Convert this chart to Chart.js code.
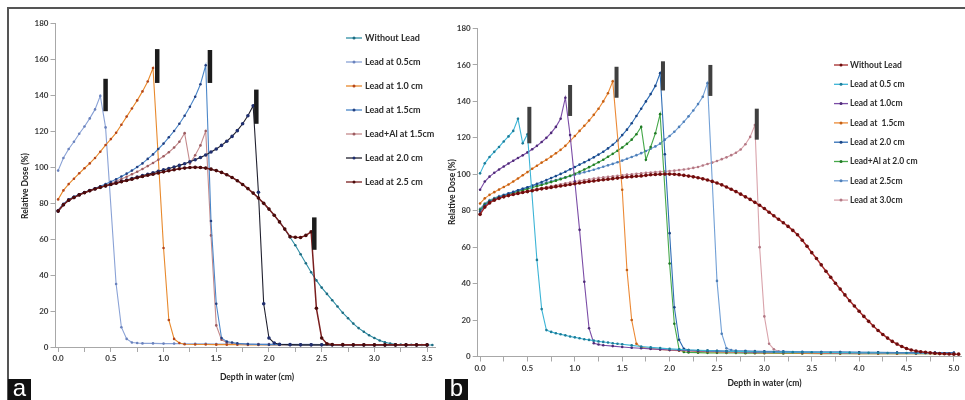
<!DOCTYPE html>
<html>
<head>
<meta charset="utf-8">
<script src="https://cdn.jsdelivr.net/npm/chart.js@4.4.0/dist/chart.umd.min.js"></script>
<style>
  body { margin: 0; background: #fff; }
  #fig { position: relative; width: 965px; height: 400px; overflow: hidden; }
  canvas { position: absolute; top: 0; }
  .rule { position: absolute; background: #555; }
  .tag { position: absolute; top: 379px; width: 23px; height: 21px; background: #111; color: #fff;
         font: 24px "Liberation Sans", Arial, sans-serif; line-height: 17px; text-align: center; }
</style>
</head>
<body>
<div id="fig">
  <canvas id="chartA" width="445" height="400" style="left:0"></canvas>
  <canvas id="chartB" width="521" height="400" style="left:444px"></canvas>
  <div class="rule" style="left:7px;top:7px;width:958px;height:2px"></div>
  <div class="rule" style="left:7px;top:7px;width:2px;height:393px"></div>
  <div class="tag" style="left:8px">a</div>
  <div class="tag" style="left:445px">b</div>
</div>
<script>
// ---- panel a: depth (cm) vs relative dose (%) ----
const a_noLead = [[0,75.5],[0.05,79],[0.1,81.5],[0.15,83],[0.2,84.5],[0.25,85.7],[0.3,86.8],[0.35,87.8],[0.4,88.7],[0.45,89.5],[0.5,90.3],[0.55,91],[0.6,91.8],[0.65,92.5],[0.7,93.2],[0.75,94],[0.8,94.7],[0.85,95.4],[0.9,96],[0.95,96.7],[1,97.3],[1.05,97.9],[1.1,98.5],[1.15,99],[1.2,99.4],[1.25,99.7],[1.3,99.8],[1.35,99.7],[1.4,99.4],[1.45,98.8],[1.5,98],[1.55,97],[1.6,95.7],[1.65,94.2],[1.7,92.4],[1.75,90.3],[1.8,88],[1.85,85.5],[1.9,82.8],[1.95,79.8],[2,76.6],[2.05,73.2],[2.1,69.5],[2.15,65.5],[2.2,61],[2.25,56.5],[2.3,51.5],[2.35,46.5],[2.4,41.5],[2.45,37],[2.5,33],[2.55,29.5],[2.6,26],[2.65,22.5],[2.7,19],[2.75,16],[2.8,13],[2.85,10.5],[2.9,8.5],[2.95,6.5],[3,5],[3.05,3.6],[3.1,2.6],[3.15,1.9],[3.2,1.5],[3.25,1.3],[3.3,1.2],[3.35,1.2],[3.4,1.1],[3.45,1.1],[3.5,1.1],[3.55,1.1]];
const a_lead05 = [[0,98],[0.05,105],[0.1,110],[0.15,114],[0.2,118.5],[0.25,122.5],[0.3,127],[0.35,132],[0.4,139.5],[0.45,122],[0.55,35],[0.6,11],[0.65,4.5],[0.7,2.5],[0.75,2.2],[0.8,2],[0.9,2],[1,1.9],[1.1,1.9],[1.2,1.8],[1.3,1.8],[1.4,1.8],[1.5,1.7],[1.6,1.7],[1.7,1.7],[1.8,1.6],[1.9,1.6],[2,1.6],[2.1,1.5],[2.2,1.5],[2.3,1.5],[2.4,1.5],[2.5,1.4],[2.6,1.4],[2.7,1.4],[2.8,1.4],[2.9,1.3],[3,1.3],[3.1,1.3],[3.2,1.3],[3.3,1.3],[3.4,1.2],[3.5,1.2]];
const a_lead10 = [[0,82],[0.05,87],[0.1,90.5],[0.15,93.5],[0.2,96.5],[0.25,99.3],[0.3,102],[0.35,105],[0.4,108.5],[0.45,112.2],[0.5,115.5],[0.55,119],[0.6,123.5],[0.65,128],[0.7,132.5],[0.75,137],[0.8,142],[0.85,147.5],[0.9,155],[1,55],[1.05,15],[1.1,4.5],[1.15,2.2],[1.2,1.5],[1.3,1.4],[1.4,1.4],[1.5,1.3],[1.6,1.3],[1.7,1.3],[1.8,1.2],[1.9,1.2],[2,1.2],[2.1,1.2],[2.2,1.2],[2.3,1.1],[2.4,1.1],[2.5,1.1],[2.6,1.1],[2.7,1.1],[2.8,1.1],[2.9,1.1],[3,1],[3.1,1],[3.2,1],[3.3,1],[3.4,1],[3.5,1]];
const a_lead15 = [[0,76],[0.05,79.5],[0.1,82],[0.15,83.5],[0.2,84.8],[0.25,86],[0.3,87.1],[0.35,88.2],[0.4,89.3],[0.45,90.5],[0.5,91.8],[0.55,93.2],[0.6,94.7],[0.65,96.3],[0.7,98],[0.75,100],[0.8,102],[0.85,104.5],[0.9,107],[0.95,110],[1,113],[1.05,116.5],[1.1,120],[1.15,124],[1.2,128.5],[1.25,133.5],[1.3,139],[1.35,146],[1.4,156.5],[1.45,70],[1.5,24],[1.55,5],[1.6,3],[1.65,2.5],[1.7,2],[1.8,1.6],[1.9,1.4],[2,1.3],[2.1,1.3],[2.2,1.2],[2.3,1.2],[2.4,1.2],[2.5,1.2],[2.6,1.1],[2.7,1.1],[2.8,1.1],[2.9,1.1],[3,1.1],[3.1,1.1],[3.2,1.1],[3.3,1.1],[3.4,1.1],[3.5,1.1]];
const a_leadAl15 = [[0,76],[0.05,79.3],[0.1,81.8],[0.15,83.3],[0.2,84.7],[0.25,85.9],[0.3,87],[0.35,88],[0.4,89],[0.45,90],[0.5,91],[0.55,92.1],[0.6,93.3],[0.65,94.6],[0.7,96],[0.75,97.4],[0.8,98.9],[0.85,100.5],[0.9,102.2],[0.95,104],[1,106],[1.05,108.2],[1.1,110.8],[1.15,114],[1.2,118.8],[1.25,102],[1.3,106.5],[1.35,112],[1.4,120],[1.45,62],[1.5,12],[1.55,4],[1.6,2.5],[1.7,1.8],[1.8,1.5],[1.9,1.4],[2,1.3],[2.1,1.3],[2.2,1.2],[2.3,1.2],[2.4,1.2],[2.5,1.2],[2.6,1.1],[2.7,1.1],[2.8,1.1],[2.9,1.1],[3,1.1],[3.1,1.1],[3.2,1.1],[3.3,1.1],[3.4,1.1],[3.5,1.1]];
const a_lead20 = [[0,75.5],[0.05,79],[0.1,81.6],[0.15,83.2],[0.2,84.6],[0.25,85.8],[0.3,86.9],[0.35,87.9],[0.4,88.8],[0.45,89.6],[0.5,90.4],[0.55,91.2],[0.6,92],[0.65,92.8],[0.7,93.6],[0.75,94.4],[0.8,95.2],[0.85,96],[0.9,96.8],[0.95,97.6],[1,98.4],[1.05,99.2],[1.1,100],[1.15,100.9],[1.2,101.8],[1.25,102.9],[1.3,104],[1.35,105.3],[1.4,106.7],[1.45,108.3],[1.5,110],[1.55,112],[1.6,114.3],[1.65,117],[1.7,120.2],[1.75,124],[1.8,128.5],[1.85,134],[1.9,86],[1.95,24],[2,5],[2.05,2.2],[2.1,1.5],[2.2,1.3],[2.3,1.2],[2.4,1.2],[2.5,1.2],[2.6,1.2],[2.7,1.1],[2.8,1.1],[2.9,1.1],[3,1.1],[3.1,1.1],[3.2,1.1],[3.3,1.1],[3.4,1.1],[3.5,1.1]];
const a_lead25 = [[0,75.5],[0.05,79],[0.1,81.5],[0.15,83],[0.2,84.5],[0.25,85.7],[0.3,86.8],[0.35,87.8],[0.4,88.7],[0.45,89.5],[0.5,90.3],[0.55,91],[0.6,91.8],[0.65,92.5],[0.7,93.2],[0.75,94],[0.8,94.7],[0.85,95.4],[0.9,96],[0.95,96.7],[1,97.3],[1.05,97.9],[1.1,98.5],[1.15,99],[1.2,99.4],[1.25,99.7],[1.3,99.8],[1.35,99.7],[1.4,99.4],[1.45,98.8],[1.5,98],[1.55,97],[1.6,95.7],[1.65,94.2],[1.7,92.4],[1.75,90.3],[1.8,88],[1.85,85.5],[1.9,82.8],[1.95,79.8],[2,76.6],[2.05,73.2],[2.1,69.5],[2.15,65.5],[2.2,61.3],[2.25,61],[2.3,60.8],[2.35,62],[2.4,64],[2.45,21.5],[2.5,5],[2.55,1.8],[2.6,1.4],[2.7,1.3],[2.8,1.2],[2.9,1.2],[3,1.2],[3.1,1.2],[3.2,1.2],[3.3,1.2],[3.4,1.2],[3.5,1.2]];
// lead sheet positions: [depth, dose from, dose to]
const a_sheets = [[0.45,131,149],[0.94,146.7,165.5],[1.44,146.7,165],[1.88,124,143],[2.43,54,72]];

// ---- panel b ----
const b_noLead = [[0,78],[0.05,82],[0.1,84.3],[0.15,85.8],[0.2,86.8],[0.25,87.6],[0.3,88.3],[0.35,88.9],[0.4,89.5],[0.45,90],[0.5,90.5],[0.55,91],[0.6,91.5],[0.65,92],[0.7,92.4],[0.75,92.8],[0.8,93.2],[0.85,93.6],[0.9,94],[0.95,94.4],[1,94.8],[1.05,95.2],[1.1,95.6],[1.15,96],[1.2,96.3],[1.25,96.7],[1.3,97],[1.35,97.3],[1.4,97.6],[1.45,97.9],[1.5,98.2],[1.55,98.5],[1.6,98.7],[1.65,98.9],[1.7,99.1],[1.75,99.4],[1.8,99.7],[1.85,99.9],[1.9,100],[1.95,100.1],[2,100.1],[2.05,100],[2.1,99.8],[2.15,99.4],[2.2,99],[2.25,98.6],[2.3,98.1],[2.35,97.5],[2.4,96.9],[2.45,96.1],[2.5,95.2],[2.55,94.2],[2.6,93],[2.65,91.8],[2.7,90.5],[2.75,89.1],[2.8,87.6],[2.85,86.2],[2.9,84.6],[2.95,83],[3,81.2],[3.05,79.2],[3.1,77.2],[3.15,75.3],[3.2,73.4],[3.25,71.4],[3.3,69.2],[3.35,66.8],[3.4,63.8],[3.45,60.5],[3.5,57],[3.55,53.8],[3.6,50.3],[3.65,46.8],[3.7,43.5],[3.75,40.2],[3.8,37],[3.85,33.8],[3.9,30.6],[3.95,27.7],[4,24.8],[4.05,22],[4.1,19.3],[4.15,16.7],[4.2,14.3],[4.25,12.1],[4.3,10.1],[4.35,8.3],[4.4,6.8],[4.45,5.5],[4.5,4.4],[4.55,3.6],[4.6,3],[4.65,2.6],[4.7,2.3],[4.75,2],[4.8,1.8],[4.85,1.6],[4.9,1.5],[4.95,1.4],[5,1.3],[5.05,1.3]];
const b_lead05 = [[0,100.5],[0.05,106],[0.1,109.5],[0.15,112.3],[0.2,115],[0.25,118],[0.3,120.8],[0.35,123.8],[0.4,130.5],[0.45,117],[0.5,122],[0.6,53],[0.65,26],[0.7,14.5],[0.75,13.5],[0.8,12.8],[0.85,12.2],[0.9,11.6],[0.95,11],[1,10.5],[1.05,10],[1.1,9.5],[1.15,9.1],[1.2,8.7],[1.25,8.3],[1.3,8],[1.35,7.7],[1.4,7.3],[1.45,7],[1.5,6.7],[1.6,6.1],[1.7,5.5],[1.8,5],[1.9,4.6],[2,4.2],[2.1,3.9],[2.2,3.6],[2.3,3.4],[2.4,3.2],[2.5,3],[2.6,2.9],[2.7,2.8],[2.8,2.7],[2.9,2.6],[3,2.5],[3.1,2.5],[3.2,2.4],[3.3,2.4],[3.4,2.3],[3.5,2.3],[3.6,2.2],[3.7,2.2],[3.8,2.1],[3.9,2.1],[4,2],[4.1,2],[4.2,2],[4.3,1.9],[4.4,1.9],[4.5,1.9],[4.6,1.8],[4.7,1.8],[4.8,1.8],[4.9,1.8],[5,1.7]];
const b_lead10 = [[0,91.5],[0.05,96],[0.1,98.7],[0.15,100.8],[0.2,102.6],[0.25,104.3],[0.3,105.9],[0.35,107.4],[0.4,108.9],[0.45,110.4],[0.5,112],[0.55,113.7],[0.6,115.6],[0.65,117.7],[0.7,120],[0.75,122.7],[0.8,126],[0.85,130.5],[0.9,142],[0.95,121.5],[1,96],[1.05,69.5],[1.1,41],[1.15,15.5],[1.2,7.3],[1.25,6.6],[1.3,6.2],[1.4,5.7],[1.5,5.2],[1.6,4.8],[1.7,4.5],[1.8,4.2],[1.9,3.9],[2,3.6],[2.1,3.4],[2.2,3.2],[2.3,3],[2.4,2.9],[2.5,2.8],[2.6,2.7],[2.7,2.6],[2.8,2.5],[2.9,2.4],[3,2.4],[3.2,2.3],[3.4,2.2],[3.6,2.1],[3.8,2],[4,2],[4.2,1.9],[4.4,1.9],[4.6,1.8],[4.8,1.8],[5,1.7]];
const b_lead15 = [[0,84],[0.05,86.8],[0.1,88.7],[0.15,90.2],[0.2,91.6],[0.25,93],[0.3,94.4],[0.35,96],[0.4,97.7],[0.45,99.5],[0.5,101.2],[0.55,103],[0.6,104.7],[0.65,106.4],[0.7,108],[0.75,109.7],[0.8,111.5],[0.85,113.4],[0.9,115.6],[0.95,118.3],[1,121],[1.05,123.8],[1.1,126.6],[1.15,129.5],[1.2,132.6],[1.25,136],[1.3,140],[1.35,144.5],[1.4,151],[1.5,91.5],[1.55,47.5],[1.6,20],[1.65,7],[1.7,5],[1.8,4.3],[1.9,3.9],[2,3.5],[2.1,3.2],[2.2,3],[2.3,2.8],[2.4,2.6],[2.5,2.5],[2.6,2.4],[2.7,2.3],[2.8,2.2],[2.9,2.1],[3,2],[3.2,1.9],[3.4,1.8],[3.6,1.7],[3.8,1.7],[4,1.6],[4.2,1.6],[4.4,1.5],[4.6,1.5],[4.8,1.5],[5,1.4]];
const b_lead20 = [[0,79.5],[0.05,83],[0.1,85],[0.15,86.3],[0.2,87.4],[0.25,88.4],[0.3,89.4],[0.35,90.3],[0.4,91.2],[0.45,92],[0.5,92.9],[0.55,93.8],[0.6,94.8],[0.65,95.8],[0.7,96.8],[0.75,97.9],[0.8,99],[0.85,100.2],[0.9,101.4],[0.95,102.7],[1,104],[1.05,105.3],[1.1,106.6],[1.15,107.9],[1.2,109.3],[1.25,110.8],[1.3,112.4],[1.35,114.2],[1.4,116.2],[1.45,118.5],[1.5,121.5],[1.55,124.5],[1.6,128],[1.65,132],[1.7,136],[1.75,140],[1.8,144],[1.85,148.5],[1.9,155.5],[1.95,111],[2,67.7],[2.05,27],[2.1,9.2],[2.15,4.2],[2.2,3.5],[2.3,3.3],[2.4,3.2],[2.5,3.1],[2.6,3],[2.7,2.9],[2.8,2.8],[2.9,2.7],[3,2.7],[3.2,2.6],[3.4,2.5],[3.6,2.4],[3.8,2.4],[4,2.3],[4.2,2.3],[4.4,2.2],[4.6,2.2],[4.8,2.2],[5,2.1]];
const b_leadAl20 = [[0,80.5],[0.05,83.5],[0.1,85.3],[0.15,86.5],[0.2,87.5],[0.25,88.3],[0.3,89],[0.35,89.8],[0.4,90.5],[0.45,91.3],[0.5,92],[0.55,92.7],[0.6,93.4],[0.65,94.1],[0.7,94.9],[0.75,95.7],[0.8,96.5],[0.85,97.3],[0.9,98.2],[0.95,99.2],[1,100.3],[1.05,101.4],[1.1,102.6],[1.15,103.9],[1.2,105.2],[1.25,106.6],[1.3,108],[1.35,109.6],[1.4,111.2],[1.45,112.9],[1.5,114.7],[1.55,116.7],[1.6,119],[1.65,122],[1.7,126],[1.75,108],[1.8,115],[1.85,122.5],[1.9,133],[2,51],[2.05,18],[2.1,4],[2.15,2.5],[2.2,2.2],[2.3,2.1],[2.4,2],[2.5,2],[2.6,1.9],[2.7,1.9],[2.8,1.8],[2.9,1.8],[3,1.8],[3.2,1.7],[3.4,1.7],[3.6,1.6],[3.8,1.6],[4,1.6],[4.2,1.5],[4.4,1.5],[4.6,1.5],[4.8,1.5],[5,1.5]];
const b_lead25 = [[0,81],[0.05,84],[0.1,85.8],[0.15,87],[0.2,88],[0.25,88.8],[0.3,89.6],[0.35,90.4],[0.4,91.2],[0.45,92],[0.5,92.7],[0.55,93.4],[0.6,94.1],[0.65,94.8],[0.7,95.5],[0.75,96.2],[0.8,96.9],[0.85,97.6],[0.9,98.3],[0.95,99],[1,99.7],[1.05,100.4],[1.1,101.1],[1.15,101.8],[1.2,102.5],[1.25,103.3],[1.3,104.1],[1.35,104.9],[1.4,105.7],[1.45,106.6],[1.5,107.5],[1.55,108.5],[1.6,109.5],[1.65,110.5],[1.7,111.6],[1.75,112.8],[1.8,114],[1.85,115.3],[1.9,116.8],[1.95,119],[2,121],[2.05,123.3],[2.1,126],[2.15,128.8],[2.2,131.8],[2.25,135],[2.3,138.5],[2.35,142.5],[2.4,150],[2.45,96],[2.5,41.5],[2.55,12.5],[2.6,4.5],[2.65,3.6],[2.7,3.3],[2.8,3.1],[2.9,3],[3,2.9],[3.2,2.8],[3.4,2.6],[3.6,2.5],[3.8,2.4],[4,2.3],[4.2,2.2],[4.4,2.2],[4.6,2.1],[4.8,2.1],[5,2]];
const b_lead30 = [[0,80],[0.05,83],[0.1,85],[0.15,86.3],[0.2,87.3],[0.25,88.1],[0.3,88.8],[0.35,89.4],[0.4,90],[0.45,90.5],[0.5,91],[0.55,91.5],[0.6,92],[0.65,92.5],[0.7,93],[0.75,93.5],[0.8,94],[0.85,94.5],[0.9,95],[0.95,95.5],[1,96],[1.05,96.4],[1.1,96.8],[1.15,97.2],[1.2,97.6],[1.25,98],[1.3,98.3],[1.35,98.6],[1.4,98.9],[1.45,99.2],[1.5,99.5],[1.55,99.8],[1.6,100],[1.65,100.3],[1.7,100.5],[1.75,100.8],[1.8,101],[1.85,101.2],[1.9,101.4],[1.95,101.6],[2,101.8],[2.05,102],[2.1,102.3],[2.15,102.6],[2.2,103],[2.25,103.5],[2.3,104],[2.35,104.8],[2.4,105.6],[2.45,106.4],[2.5,107.3],[2.55,108.3],[2.6,109.3],[2.65,110.5],[2.7,111.8],[2.75,113.6],[2.8,116.5],[2.85,120.5],[2.9,127],[2.95,60],[3,22],[3.05,7],[3.1,4],[3.15,2.8],[3.2,2.5],[3.3,2.3],[3.4,2.2],[3.6,2.1],[3.8,2],[4,1.9],[4.2,1.9],[4.4,1.8],[4.6,1.8],[4.8,1.7],[5,1.7]];
const b_sheets = [[0.52,117,137],[0.95,132,149],[1.44,142,159],[1.93,146,162],[2.43,143,160],[2.92,119,136]];

const FONT = 'Lato, "Open Sans", sans-serif';

function series(label, pts, line, dot, order, extra) {
  return Object.assign({
    label,
    data: pts.map(([x, y]) => ({ x, y })),
    order,
    borderColor: line,
    backgroundColor: line,
    borderWidth: 1.1,
    pointRadius: 1.3,
    pointBorderWidth: 0,
    pointBackgroundColor: dot,
    tension: 0
  }, extra || {});
}

// lead sheets, legend block and axis titles
const overlay = {
  id: 'overlay',
  afterDatasetsDraw(chart, args, o) {
    const { ctx, scales: { x, y } } = chart;
    ctx.save();
    ctx.fillStyle = o.sheetColor;
    o.sheets.forEach(([d, lo, hi]) => {
      const px = x.getPixelForValue(d);
      const top = y.getPixelForValue(hi);
      ctx.fillRect(px - o.sheetWidth / 2, top, o.sheetWidth, y.getPixelForValue(lo) - top);
    });
    ctx.restore();
  },
  afterDraw(chart, args, o) {
    const ctx = chart.ctx;
    const lg = o.legend;
    ctx.save();
    ctx.textBaseline = 'middle';
    ctx.font = `bold ${lg.size}px ${FONT}`;
    chart.data.datasets.forEach((ds, i) => {
      const yy = lg.y + i * lg.gap;
      ctx.strokeStyle = ds.borderColor;
      ctx.lineWidth = 1.3;
      ctx.beginPath();
      ctx.moveTo(lg.x, yy);
      ctx.lineTo(lg.x + lg.len, yy);
      ctx.stroke();
      ctx.fillStyle = ds.pointBackgroundColor;
      ctx.beginPath();
      ctx.arc(lg.x + lg.len / 2, yy, 1.5, 0, Math.PI * 2);
      ctx.fill();
      ctx.fillStyle = '#2b2b2b';
      ctx.fillText(ds.label, lg.x + lg.len + lg.pad, yy);
    });
    ctx.font = `bold ${o.titleSize}px ${FONT}`;
    ctx.textAlign = 'center';
    ctx.fillStyle = '#222';
    ctx.fillText('Depth in water (cm)', o.xTitle[0], o.xTitle[1]);
    ctx.translate(o.yTitle[0], o.yTitle[1]);
    ctx.rotate(-Math.PI / 2);
    ctx.fillText('Relative Dose (%)', 0, 0);
    ctx.restore();
  }
};

function axes(p) {
  const tickFont = { family: FONT, size: 8, weight: 'bold' };
  const grid = { drawOnChartArea: false, tickLength: 5, color: '#a8a8a8' };
  return {
    x: {
      type: 'linear', min: p.xMin, max: p.xMax,
      afterFit: s => { s.height = p.xHeight; },
      border: { color: '#a8a8a8' },
      grid,
      ticks: {
        stepSize: 0.25, includeBounds: false, autoSkip: false, maxRotation: 0, padding: 2,
        color: '#3a3a3a', font: tickFont,
        callback: v => (Math.abs(v * 2 - Math.round(v * 2)) < 1e-6 ? v.toFixed(1) : '')
      }
    },
    y: {
      min: 0, max: 180,
      afterFit: s => { s.width = p.yWidth; },
      border: { color: '#a8a8a8' },
      grid,
      ticks: { stepSize: 20, padding: 2, color: '#3a3a3a', font: tickFont }
    }
  };
}

new Chart(document.getElementById('chartA'), {
  type: 'line',
  data: {
    datasets: [
      series('Without Lead', a_noLead, '#2f8ea5', '#1d6c82', 6),
      series('Lead at 0.5cm', a_lead05, '#8aa2d6', '#6a82bd', 5),
      series('Lead at 1.0 cm', a_lead10, '#e8892c', '#b5461a', 4),
      series('Lead at 1.5cm', a_lead15, '#4a86c8', '#243f80', 2),
      series('Lead+Al at 1.5cm', a_leadAl15, '#c48a8c', '#9c5c60', 3),
      series('Lead at 2.0 cm', a_lead20, '#20202e', '#1f2e6e', 1, { pointRadius: 1.8 }),
      series('Lead at 2.5 cm', a_lead25, '#7a1e1e', '#4a0a0a', 0, { pointRadius: 1.8, borderWidth: 1.5 })
    ]
  },
  options: {
    responsive: false, animation: false, events: [],
    layout: { padding: { top: 23, right: 10, left: 0, bottom: 0 } },
    scales: axes({ xMin: -0.025, xMax: 3.575, xHeight: 53, yWidth: 55.5 }),
    plugins: {
      legend: { display: false }, tooltip: { enabled: false },
      overlay: {
        sheets: a_sheets, sheetColor: '#1c1c1c', sheetWidth: 4.5,
        legend: { x: 346, y: 38, gap: 24, len: 16, pad: 3, size: 9 },
        titleSize: 8.5, xTitle: [257, 377], yTitle: [25, 186]
      }
    }
  },
  plugins: [overlay]
});

new Chart(document.getElementById('chartB'), {
  type: 'line',
  data: {
    datasets: [
      series('Without Lead', b_noLead, '#a52a2a', '#6e0d0d', 0, { pointRadius: 1.8, borderWidth: 1.5 }),
      series('Lead at 0.5 cm', b_lead05, '#3cb4d6', '#1d7d99', 1),
      series('Lead at 1.0cm', b_lead10, '#7b4ca6', '#4e2a78', 2),
      series('Lead at  1.5cm', b_lead15, '#ec8a36', '#c45f14', 3),
      series('Lead at 2.0 cm', b_lead20, '#2f6db5', '#1a4585', 4),
      series('Lead+Al at 2.0 cm', b_leadAl20, '#46a84a', '#217a25', 5),
      series('Lead at 2.5cm', b_lead25, '#72a0d6', '#4f7fb8', 6),
      series('Lead at 3.0cm', b_lead30, '#d9a3ab', '#b27884', 7)
    ]
  },
  options: {
    responsive: false, animation: false, events: [],
    layout: { padding: { top: 28.5, right: 0.5, left: 0, bottom: 0 } },
    scales: axes({ xMin: -0.025, xMax: 5.075, xHeight: 43.5, yWidth: 33.7 }),
    plugins: {
      legend: { display: false }, tooltip: { enabled: false },
      overlay: {
        sheets: b_sheets, sheetColor: '#404040', sheetWidth: 4,
        legend: { x: 390, y: 65, gap: 19.3, len: 14, pad: 2, size: 8.5 },
        titleSize: 8.5, xTitle: [320.5, 383], yTitle: [8, 192]
      }
    }
  },
  plugins: [overlay]
});
</script>
</body>
</html>
